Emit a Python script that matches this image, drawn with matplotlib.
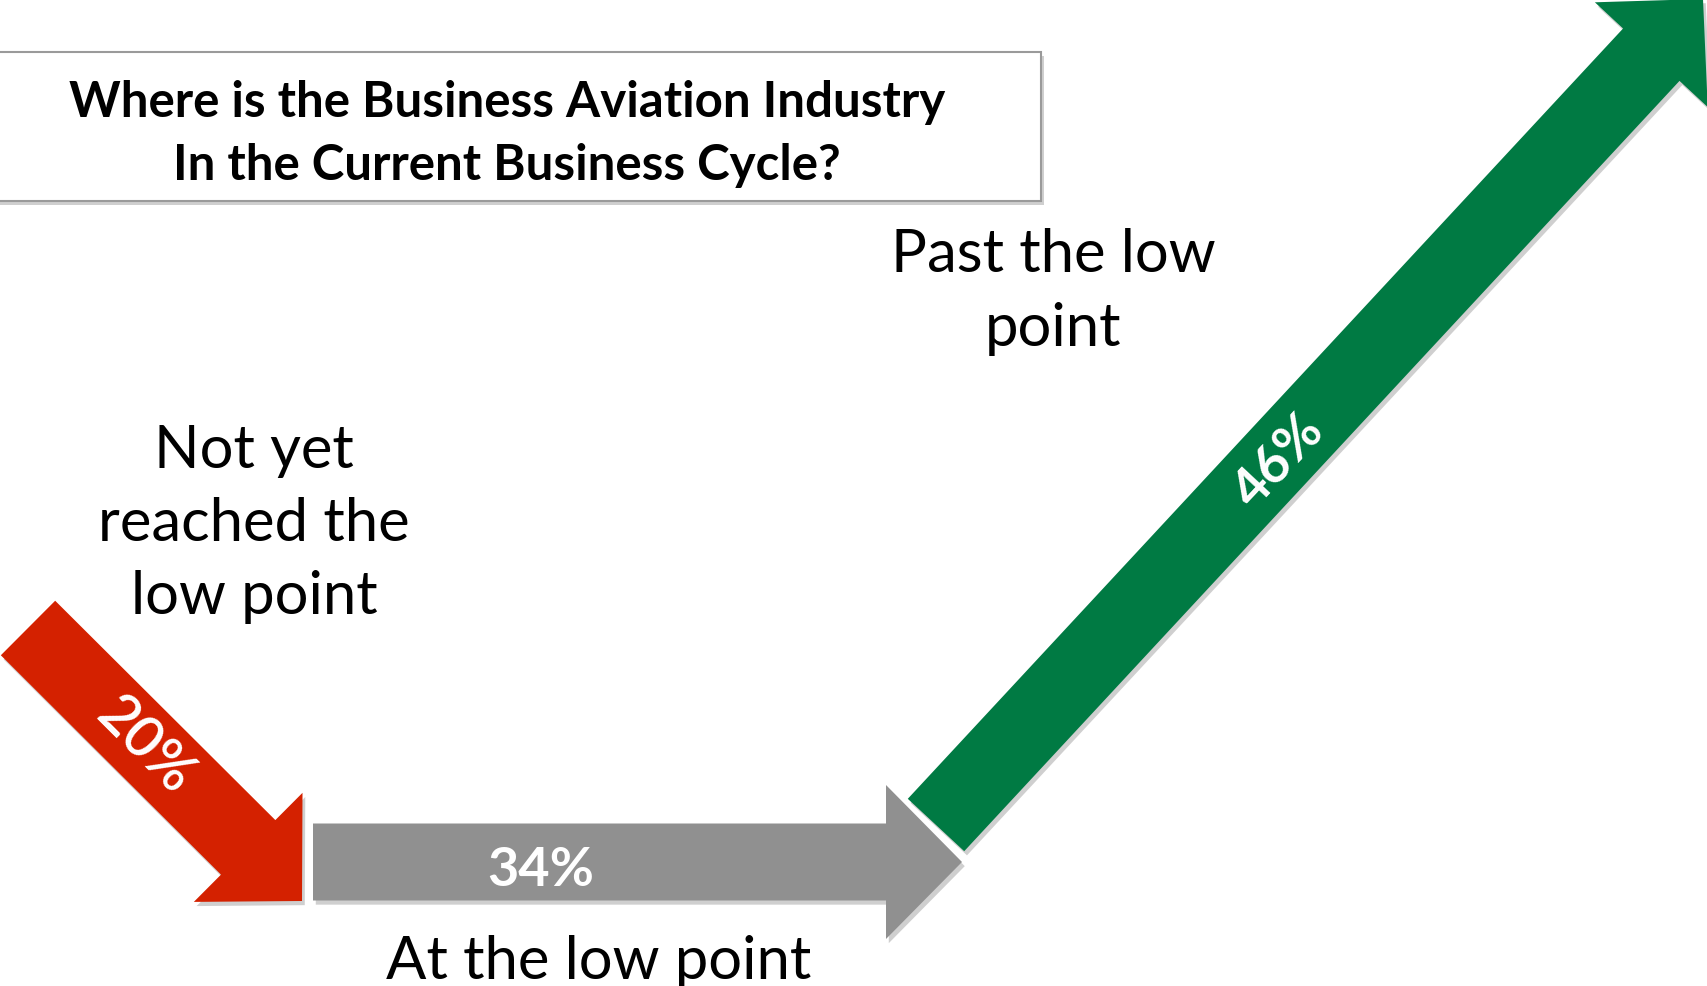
import matplotlib
matplotlib.use("Agg")
import matplotlib.pyplot as plt
import matplotlib.patches as mpatches
import matplotlib.patheffects as pe

# survey results
categories = ["Not yet\nreached the\nlow point", "At the low point", "Past the low\npoint"]
shares = [20, 34, 46]
colors = ["#D42100", "#909090", "#007A43"]
title = "Where is the Business Aviation Industry\nIn the Current Business Cycle?"

# arrow layout in pixels (x right, y down): tail, tip
arrows = [((28, 629), (302, 902)),
          ((313, 863), (962, 863)),
          ((936, 826), (1703, 0))]
shaft_w, head_w, head_l = 77, 154, 76

W, H = 1707, 987
fig = plt.figure(figsize=(W / 100, H / 100), dpi=100)
ax = fig.add_axes([0, 0, 1, 1])
ax.set_xlim(0, W)
ax.set_ylim(H, 0)
ax.axis("off")

shadow = [pe.SimplePatchShadow(offset=(2, -3), shadow_rgbFace="#777777", alpha=0.35), pe.Normal()]

# title box
box = mpatches.Rectangle((-5, 53), 1046, 149, facecolor="white", edgecolor="#9a9a9a",
                         lw=1.5, path_effects=shadow, zorder=2)
ax.add_patch(box)
ax.text(507, 134, title, ha="center", va="center", fontsize=35.5, fontweight="bold",
        family="Lato", linespacing=1.5, zorder=3)

for (t0, t1), c in zip(arrows, colors):
    arr = mpatches.FancyArrow(t0[0], t0[1], t1[0] - t0[0], t1[1] - t0[1], width=shaft_w,
                              head_width=head_w, head_length=head_l, length_includes_head=True,
                              facecolor=c, edgecolor="none", path_effects=shadow, zorder=4)
    ax.add_patch(arr)

# percentage labels on the arrows
ax.text(145, 746, f"{shares[0]}%", color="white", fontsize=41, fontweight="semibold", family="Lato",
        rotation=-45, ha="center", va="center", rotation_mode="anchor", zorder=5)
ax.text(541, 870, f"{shares[1]}%", color="white", fontsize=39, fontweight="bold", family="Lato",
        ha="center", va="center", zorder=5)
ax.text(1279, 461, f"{shares[2]}%", color="white", fontsize=39, fontweight="bold", family="Lato",
        rotation=47, ha="center", va="center", rotation_mode="anchor", zorder=5)

# category labels
ax.text(254, 524, categories[0], fontsize=43, family="Lato", ha="center", va="center",
        linespacing=1.43)
ax.text(599, 962, categories[1], fontsize=43, family="Lato", ha="center", va="center")
ax.text(1053, 292, categories[2], fontsize=43, family="Lato", ha="center", va="center",
        linespacing=1.46)

fig.savefig("out.png", dpi=100, facecolor="white")
